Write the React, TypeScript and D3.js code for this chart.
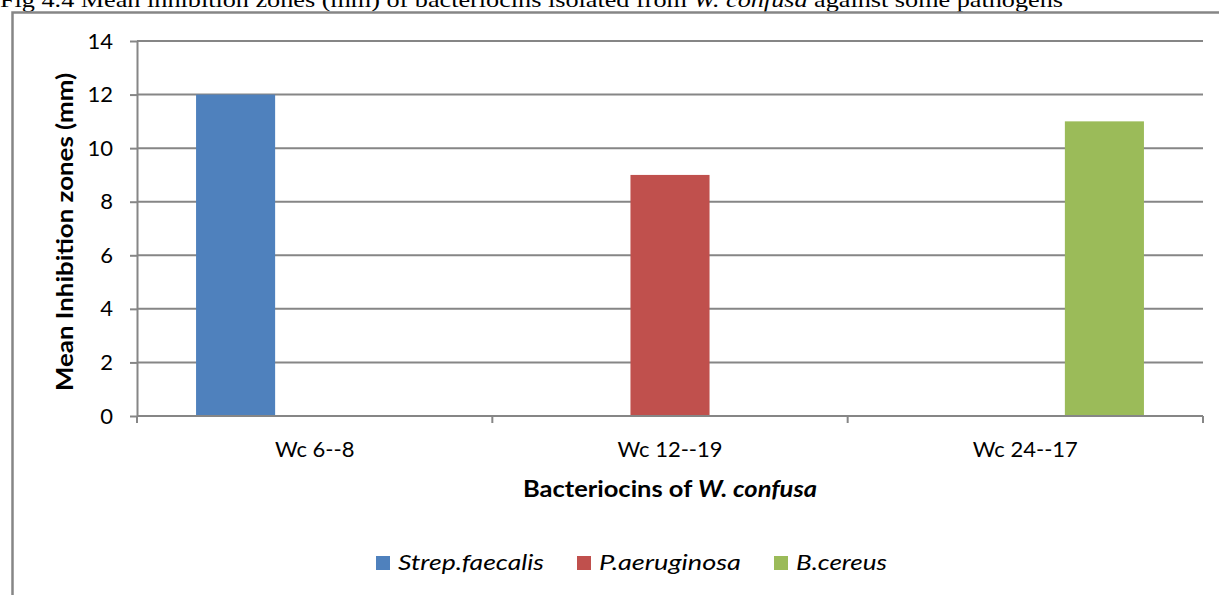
import React, { useEffect, useRef } from 'react';
import * as d3 from 'd3';

const categories = ['Wc 6--8', 'Wc 12--19', 'Wc 24--17'];
const seriesNames = ['Strep.faecalis', 'P.aeruginosa', 'B.cereus'];
const strepValues = [12, 0, 0];
const aeruginosaValues = [0, 9, 0];
const cereusValues = [0, 0, 11];
const seriesColors = ['#4f81bd', '#c0504d', '#9bbb59'];
const yTicks = [0, 2, 4, 6, 8, 10, 12, 14];

const W = 1219;
const H = 595;
const FONT = 'Lato, "Open Sans", sans-serif';
const GREY = '#868686';

export default function App() {
  const ref = useRef<SVGSVGElement | null>(null);

  useEffect(() => {
    const svg = d3.select(ref.current);
    svg.selectAll('*').remove();

    const left = 137, right = 1203, top = 41, bottom = 416;
    const series = [strepValues, aeruginosaValues, cereusValues];

    const x0 = d3.scaleBand<string>()
      .domain(categories)
      .range([left, right])
      .paddingInner(118 / 355)
      .paddingOuter(59 / 355);
    const x1 = d3.scaleBand<string>()
      .domain(seriesNames)
      .range([0, x0.bandwidth()]);
    const y = d3.scaleLinear().domain([0, 14]).range([bottom, top]);

    // title, cut at the top edge like the source
    const title = svg.append('text')
      .attr('x', 0).attr('y', 6.5)
      .attr('font-family', '"Liberation Serif", "Times New Roman", serif')
      .attr('font-size', 22)
      .attr('textLength', 1063)
      .attr('lengthAdjust', 'spacingAndGlyphs');
    title.append('tspan').text('Fig 4.4 Mean inhibition zones (mm) of bacteriocins isolated from ');
    title.append('tspan').attr('font-style', 'italic').text('W. confusa');
    title.append('tspan').text(' against some pathogens');

    // chart frame
    svg.append('rect')
      .attr('x', 12.5).attr('y', 12.5)
      .attr('width', W).attr('height', H)
      .attr('fill', 'none')
      .attr('stroke', GREY)
      .attr('stroke-width', 2.5);

    // gridlines
    svg.append('g')
      .selectAll('line')
      .data(yTicks.filter(d => d > 0))
      .join('line')
      .attr('x1', left).attr('x2', right)
      .attr('y1', d => y(d)).attr('y2', d => y(d))
      .attr('stroke', GREY).attr('stroke-width', 2);

    // bars
    series.forEach((vals, si) => {
      svg.append('g')
        .selectAll('rect')
        .data(vals)
        .join('rect')
        .attr('x', (d, i) => (x0(categories[i]) as number) + (x1(seriesNames[si]) as number))
        .attr('y', d => y(d))
        .attr('width', x1.bandwidth())
        .attr('height', d => y(0) - y(d))
        .attr('fill', seriesColors[si]);
    });

    // y axis
    const yAxis = svg.append('g')
      .attr('transform', `translate(${left},0)`)
      .call(d3.axisLeft(y).tickValues(yTicks).tickSize(7).tickSizeOuter(0));
    yAxis.select('.domain').attr('stroke', GREY).attr('stroke-width', 2);
    yAxis.selectAll('.tick line').attr('stroke', GREY).attr('stroke-width', 2);
    yAxis.selectAll('.tick text')
      .attr('x', -24)
      .attr('font-family', FONT)
      .attr('font-size', 22)
      .attr('fill', '#000');

    // x axis
    const xAxisG = svg.append('g').attr('transform', `translate(0,${bottom})`);
    xAxisG.append('line')
      .attr('x1', left).attr('x2', right)
      .attr('stroke', GREY).attr('stroke-width', 2);
    const boundaries = [left, ...categories.map(c => (x0(c) as number) + x0.bandwidth() + x0.step() * x0.paddingInner() / 2)];
    boundaries[boundaries.length - 1] = right;
    xAxisG.selectAll('line.tk')
      .data(boundaries)
      .join('line')
      .attr('class', 'tk')
      .attr('x1', d => d).attr('x2', d => d)
      .attr('y1', 0).attr('y2', 7)
      .attr('stroke', GREY).attr('stroke-width', 2);
    xAxisG.selectAll('text')
      .data(categories)
      .join('text')
      .attr('x', d => (x0(d) as number) + x0.bandwidth() / 2)
      .attr('y', 41)
      .attr('text-anchor', 'middle')
      .attr('font-family', FONT)
      .attr('font-size', 22)
      .text(d => d);

    // x axis title
    const xt = svg.append('text')
      .attr('x', 670).attr('y', 497)
      .attr('text-anchor', 'middle')
      .attr('font-family', FONT)
      .attr('font-size', 22)
      .attr('font-weight', 'bold')
      .attr('textLength', 294)
      .attr('lengthAdjust', 'spacingAndGlyphs');
    xt.append('tspan').text('Bacteriocins of ');
    xt.append('tspan').attr('font-style', 'italic').text('W. confusa');

    // y axis title
    svg.append('text')
      .attr('transform', `translate(73,232) rotate(-90)`)
      .attr('text-anchor', 'middle')
      .attr('font-family', FONT)
      .attr('font-size', 22)
      .attr('font-weight', 'bold')
      .attr('textLength', 318)
      .attr('lengthAdjust', 'spacingAndGlyphs')
      .text('Mean Inhibition zones (mm)');

    // legend
    const legendX = [376, 577, 774];
    const legendW = [146, 142, 91];
    const lg = svg.append('g');
    seriesNames.forEach((name, i) => {
      lg.append('rect')
        .attr('x', legendX[i]).attr('y', 556)
        .attr('width', 14).attr('height', 14)
        .attr('fill', seriesColors[i]);
      lg.append('text')
        .attr('x', legendX[i] + 22).attr('y', 570)
        .attr('font-family', FONT)
        .attr('font-size', 22)
        .attr('font-style', 'italic')
        .attr('textLength', legendW[i])
        .attr('lengthAdjust', 'spacingAndGlyphs')
        .text(name);
    });
  }, []);

  return (
    <svg
      ref={ref}
      width={W}
      height={H}
      style={{ position: 'absolute', left: 0, top: 0, background: '#fff' }}
    />
  );
}
